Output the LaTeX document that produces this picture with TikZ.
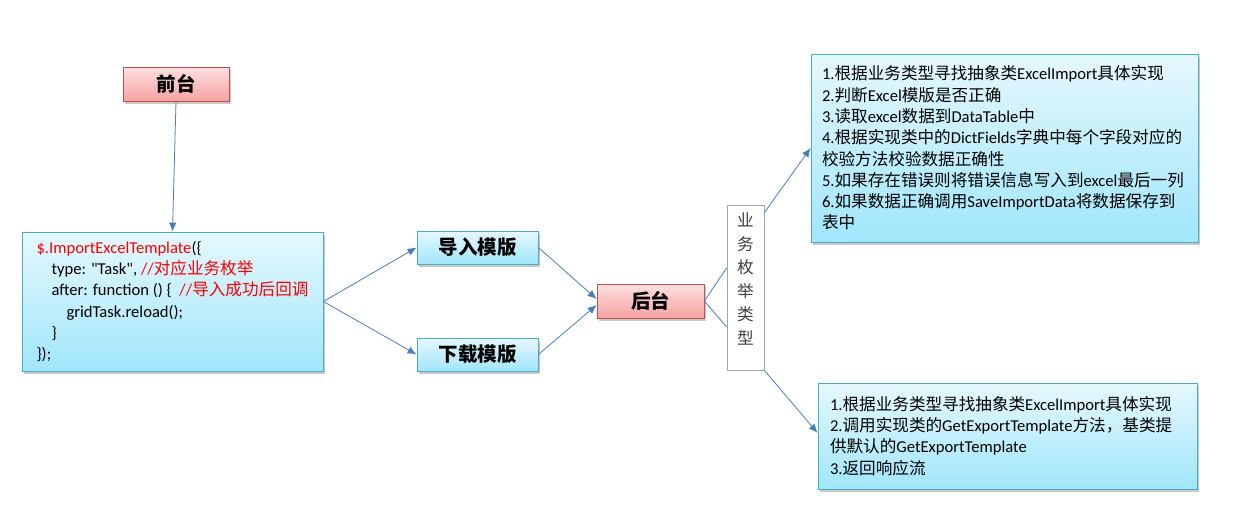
\documentclass[tikz,border=0pt]{standalone}
\usepackage{fontspec}
\setmainfont{Carlito}
\newfontfamily\rawfont{Carlito}
\newfontfamily\cjk{Noto Sans CJK SC}
\usetikzlibrary{arrows.meta,shadows}
\definecolor{arr}{HTML}{4A7EBB}
\definecolor{redtop}{HTML}{FDE0E0}
\definecolor{redbot}{HTML}{F7A2A2}
\definecolor{redline}{HTML}{C0504D}
\definecolor{cyantop}{HTML}{E6F8FD}
\definecolor{cyanbot}{HTML}{A0E6FB}
\definecolor{cyanline}{HTML}{4BACC6}
\definecolor{codered}{HTML}{FF0000}
\newcommand\zh[1]{{\cjk #1}}
\newcommand\dq{{\rawfont\symbol{34}}}
\tikzset{
  shade/.style={drop shadow={shadow xshift=2pt,shadow yshift=-2.5pt,opacity=0.35,fill=black!60}},
  redbox/.style={draw=redline,line width=0.8pt,top color=redtop,bottom color=redbot,shade,
    inner sep=0pt,font=\fontsize{19.5}{20}\selectfont\cjk\bfseries},
  cyanbox/.style={draw=cyanline,line width=0.8pt,top color=cyantop,bottom color=cyanbot,shade},
  labbox/.style={cyanbox,inner sep=0pt,font=\fontsize{19.5}{20}\selectfont\cjk\bfseries},
  txtbox/.style={cyanbox,inner ysep=0pt,align=left,font=\fontsize{16.6}{21.3}\selectfont},
  vbox/.style={draw=black!35,line width=0.8pt,fill=white,inner sep=0pt,align=center,
    text=black!75,font=\fontsize{16.6}{23.6}\selectfont\cjk},
  arrow/.style={draw=arr,line width=0.8pt,-{Latex[length=9pt,width=7.5pt]}},
  plain/.style={draw=arr,line width=0.8pt}
}
\begin{document}
\begin{tikzpicture}[x=1pt,y=-1pt]
\useasboundingbox[fill=white] (0,0) rectangle (1240,506);

\node[redbox,minimum width=106pt,minimum height=34pt] (qt) at (176,84) {前台};

\node[txtbox,minimum width=301pt,minimum height=139pt] (code) at (172.5,301.5)
{\textcolor{codered}{\$.ImportExcelTemplate}(\{\\
\hspace*{15pt}type: \dq Task\dq, \textcolor{codered}{//\zh{对应业务枚举}}\\
\hspace*{15pt}after: function () \{ \ \textcolor{codered}{//\zh{导入成功后回调}}\\
\hspace*{30pt}gridTask.reload();\\
\hspace*{15pt}\}\\
\});};

\node[labbox,minimum width=121pt,minimum height=33pt] (dr) at (477.5,247.5) {导入模版};
\node[labbox,minimum width=121pt,minimum height=33pt] (xz) at (477.5,354.5) {下载模版};
\node[redbox,minimum width=107pt,minimum height=34pt] (ht) at (650.5,301) {后台};

\node[vbox,minimum width=37pt,minimum height=165pt] (yw) at (745.5,287.5)
{业\\务\\枚\\举\\类\\型\\[-6pt]};

\node[txtbox,inner xsep=11pt,text width=365pt,minimum height=188pt] (top) at (1004.5,148)
{1.\zh{根据业务类型寻找抽象类}ExcelImport\zh{具体实现}\\
2.\zh{判断}Excel\zh{模版是否正确}\\
3.\zh{读取}excel\zh{数据到}DataTable\zh{中}\\
4.\zh{根据实现类中的}DictFields\zh{字典中每个字段对应的}\\
\zh{校验方法校验数据正确性}\\
5.\zh{如果存在错误则将错误信息写入到}excel\zh{最后一列}\\
6.\zh{如果数据正确调用}SaveImportData\zh{将数据保存到}\\
\zh{表中}\\[4pt]};

\node[txtbox,inner xsep=12pt,text width=355pt,minimum height=106pt] (bot) at (1007.5,436)
{1.\zh{根据业务类型寻找抽象类}ExcelImport\zh{具体实现}\\
2.\zh{调用实现类的}GetExportTemplate\zh{方法，基类提}\\
\zh{供默认的}GetExportTemplate\\
3.\zh{返回响应流}};

\draw[arrow] (qt.south) -- (code.north);
\draw[arrow] (code.east) -- (dr.west);
\draw[arrow] (code.east) -- (xz.west);
\draw[arrow] (dr.east) -- ([yshift=2pt]ht.west);
\draw[arrow] (xz.east) -- ([yshift=-4pt]ht.west);
\draw[plain] (ht.east) -- ([yshift=19.5pt]yw.west);
\draw[plain] (ht.east) -- ([yshift=-39.5pt]yw.west);
\draw[arrow] ([yshift=-8pt]yw.north east) -- (top.west);
\draw[arrow] (yw.south east) -- ([yshift=3pt]bot.west);
\end{tikzpicture}
\end{document}
